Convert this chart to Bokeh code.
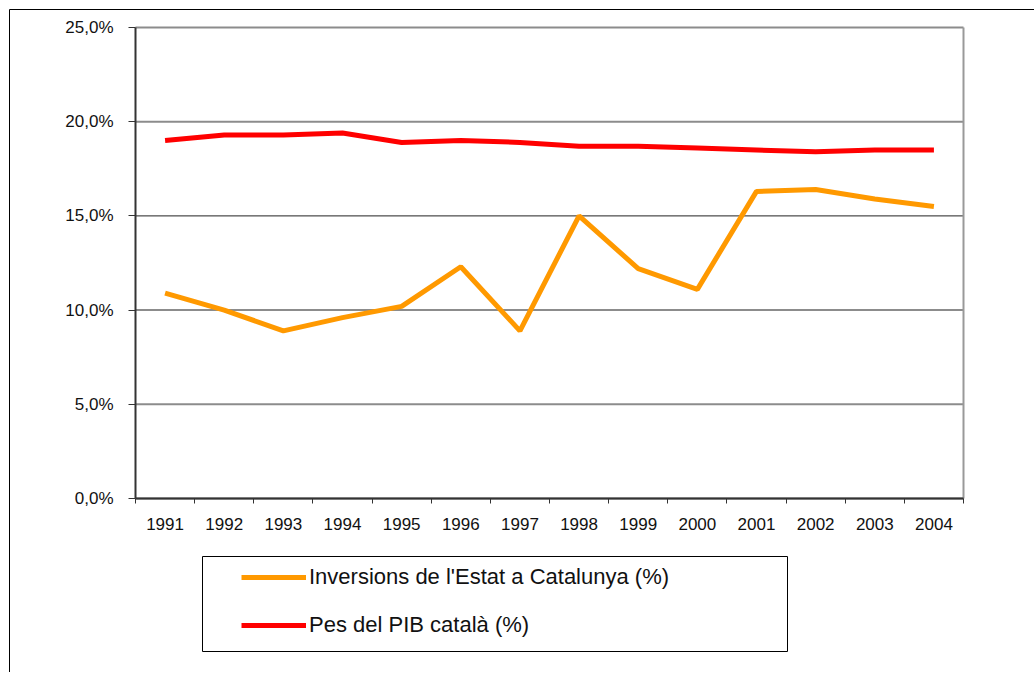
from bokeh.plotting import figure
from bokeh.models import (Range1d, FixedTicker, Legend, LegendItem, BoxAnnotation,
                          ColumnDataSource, LinearAxis)
from bokeh.embed import file_html
from bokeh.resources import INLINE

years = ["1991", "1992", "1993", "1994", "1995", "1996", "1997",
         "1998", "1999", "2000", "2001", "2002", "2003", "2004"]
inversions = [10.9, 10.0, 8.9, 9.6, 10.2, 12.3, 8.9, 15.0, 12.2, 11.1, 16.3, 16.4, 15.9, 15.5]
pes_pib = [19.0, 19.3, 19.3, 19.4, 18.9, 19.0, 18.9, 18.7, 18.7, 18.6, 18.5, 18.4, 18.5, 18.5]
y_ticks = [0, 5, 10, 15, 20, 25]
y_tick_labels = ["0,0%", "5,0%", "10,0%", "15,0%", "20,0%", "25,0%"]
label_inv = "Inversions de l'Estat a Catalunya (%)"
label_pib = "Pes del PIB català (%)"

FONT = "Liberation Sans"

n = len(years)
centers = [i + 0.5 for i in range(n)]
bounds = list(range(n + 1))
y_min, y_max = y_ticks[0], y_ticks[-1]

# ---- layout (pixels) ----
W, H = 1034, 672
PX_L, PX_R, PX_T, PX_B = 135, 963, 27, 498      # plot area in canvas pixels
sx = (PX_R - PX_L) / n
sy = (PX_B - PX_T) / (y_max - y_min)
x_range = Range1d(-PX_L / sx, n + (W - PX_R) / sx)
y_range = Range1d(y_min - (H - PX_B) / sy, y_max + PX_T / sy)

p = figure(width=W, height=H, output_backend="svg", toolbar_location=None,
           x_range=x_range, y_range=y_range,
           x_axis_location=None, y_axis_location=None,
           min_border=0, min_border_left=0, min_border_right=0,
           min_border_top=0, min_border_bottom=0)
p.background_fill_color = "white"
p.border_fill_color = "white"
p.outline_line_color = None
p.xgrid.visible = False
p.ygrid.visible = False

# gridlines and plot-area right border
grid_src = ColumnDataSource(dict(
    x0=[0] * len(y_ticks), x1=[n] * len(y_ticks), y=y_ticks,
    c=["#222222" if t == 15 else "#8c8c8c" for t in y_ticks],
    w=[1 if t == 15 else 2 for t in y_ticks]))
p.segment(x0="x0", y0="y", x1="x1", y1="y", source=grid_src,
          line_color="c", line_width="w")
p.segment(x0=[n], y0=[y_min], x1=[n], y1=[y_max], line_color="#999999", line_width=2)

# axes at fixed locations
xa = LinearAxis(fixed_location=y_min, bounds=(0, n))
xa.ticker = FixedTicker(ticks=centers, minor_ticks=bounds)
xa.major_label_overrides = {c: y for c, y in zip(centers, years)}
xa.major_tick_line_color = None
xa.major_tick_out = 5
xa.major_tick_in = 0
xa.minor_tick_line_color = "#333333"
xa.minor_tick_line_width = 1
xa.minor_tick_out = 5
xa.minor_tick_in = 0
xa.axis_line_color = "#333333"
xa.axis_line_width = 2
xa.major_label_text_font = FONT
xa.major_label_text_font_size = "17px"
xa.major_label_text_color = "#111111"
xa.major_label_standoff = 14
p.add_layout(xa, "below")

ya = LinearAxis(fixed_location=0, bounds=(y_min, y_max))
ya.ticker = FixedTicker(ticks=y_ticks)
ya.major_label_overrides = {t: l for t, l in zip(y_ticks, y_tick_labels)}
ya.major_tick_line_color = "#333333"
ya.major_tick_out = 7
ya.major_tick_in = 0
ya.minor_tick_line_color = None
ya.axis_line_color = "#333333"
ya.axis_line_width = 2
ya.major_label_text_font = FONT
ya.major_label_text_font_size = "17px"
ya.major_label_text_color = "#111111"
ya.major_label_standoff = 15
p.add_layout(ya, "left")

src = ColumnDataSource(dict(x=centers, inv=inversions, pib=pes_pib))
r_inv = p.line("x", "inv", source=src, line_color="#FF9900", line_width=5)
r_pib = p.line("x", "pib", source=src, line_color="#FF0000", line_width=5)

# legend (location from bottom-left of canvas, y up)
legend = Legend(items=[LegendItem(label=label_inv, renderers=[r_inv]),
                       LegendItem(label=label_pib, renderers=[r_pib])],
                location=(241, H - 638), orientation="vertical",
                border_line_color=None, background_fill_alpha=0,
                padding=0, margin=0, spacing=22,
                glyph_width=65, glyph_height=20, label_height=20,
                label_standoff=3,
                label_text_font=FONT, label_text_font_size="22px",
                label_text_color="#111111")
p.add_layout(legend, "center")

# legend frame box and outer chart border
p.add_layout(BoxAnnotation(left=202, right=787, top=556, bottom=651,
                           left_units="canvas", right_units="canvas",
                           top_units="canvas", bottom_units="canvas",
                           fill_alpha=0, line_color="black", line_alpha=1, line_width=1))
p.add_layout(BoxAnnotation(left=9, right=W + 50, top=9, bottom=H + 50,
                           left_units="canvas", right_units="canvas",
                           top_units="canvas", bottom_units="canvas",
                           fill_alpha=0, line_color="black", line_alpha=1, line_width=1))

open("out.html", "w").write(file_html(p, INLINE))
